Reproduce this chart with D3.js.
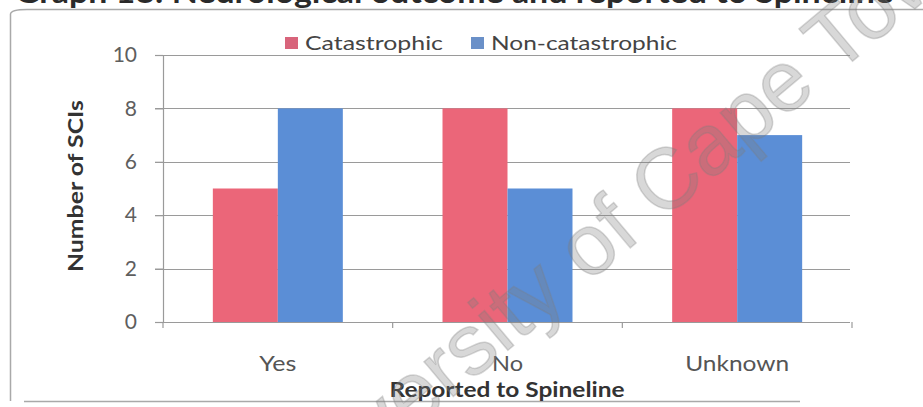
<!DOCTYPE html>
<html>
<head>
<meta charset="utf-8">
<script src="https://cdn.jsdelivr.net/npm/d3@7"></script>
<style>
  html, body { margin: 0; padding: 0; background: #fff; }
  svg { display: block; }
</style>
</head>
<body>
<svg id="chart" width="923" height="407"></svg>
<script>
// Spinal cord injuries by neurological outcome, split by whether they were reported to Spineline
const categories = ["Yes", "No", "Unknown"];
const seriesNames = ["Catastrophic", "Non-catastrophic"];
const catastrophic = [5, 8, 8];
const nonCatastrophic = [8, 5, 7];
const yTicks = [0, 2, 4, 6, 8, 10];
const titleText = "Graph 18: Neurological outcome and reported to Spineline";
const xTitle = "Reported to Spineline";
const yTitle = "Number of SCIs";
const watermarkHead = "University of ";
const watermarkTail = "Cape Town";

const colors = { "Catastrophic": "#eb6679", "Non-catastrophic": "#5b8ed6" };
const legendColors = { "Catastrophic": "#d8647b", "Non-catastrophic": "#6a90c8" };
const seriesValues = { "Catastrophic": catastrophic, "Non-catastrophic": nonCatastrophic };

const font = "Lato, 'Open Sans', sans-serif";
const svg = d3.select("#chart");

// plot box
const plot = { left: 163, right: 852, top: 55, bottom: 322 };

const x = d3.scaleBand().domain(categories)
  .range([plot.left, plot.right]).paddingInner(0.434).paddingOuter(0.217);
const xs = d3.scaleBand().domain(seriesNames).range([0, x.bandwidth()]);
const y = d3.scaleLinear().domain([0, 10]).range([plot.bottom, plot.top]);

// title (top of it runs off the page)
svg.append("text")
  .attr("x", 15).attr("y", 3)
  .attr("font-family", font).attr("font-weight", 700).attr("font-size", 30)
  .attr("fill", "#2a2a2a")
  .attr("textLength", 878).attr("lengthAdjust", "spacingAndGlyphs")
  .text(titleText);

// chart frame
svg.append("path")
  .attr("d", "M27,9.5 L923,9.5 M10.5,14 L10.5,401 M24,401.5 L800,401.5")
  .attr("fill", "none").attr("stroke", "#a9a9a9").attr("stroke-width", 1.5);
svg.append("path")
  .attr("d", "M10.5,14 Q11,9.5 27,9.5")
  .attr("fill", "none").attr("stroke", "#a9a9a9").attr("stroke-width", 1.5);

// horizontal gridlines with ticks
const grid = svg.append("g");
grid.selectAll("line").data(yTicks.filter(d => d > 0)).join("line")
  .attr("x1", 155).attr("x2", 850)
  .attr("y1", d => Math.round(y(d)) + 0.5).attr("y2", d => Math.round(y(d)) + 0.5)
  .attr("stroke", "#9a9a9a").attr("stroke-width", 1.2);

// y axis
const yAxis = svg.append("g").attr("transform", `translate(${plot.left},0)`)
  .call(d3.axisLeft(y).tickValues(yTicks).tickSize(8).tickPadding(18));
yAxis.select(".domain").attr("stroke", "#9a9a9a").attr("stroke-width", 1.2);
yAxis.selectAll(".tick line").attr("stroke", "#9a9a9a").attr("stroke-width", 1.2);
yAxis.selectAll(".tick text")
  .attr("font-family", font).attr("font-size", 21).attr("fill", "#5e5e5e");

// bars
const groups = svg.append("g").selectAll("g").data(categories).join("g")
  .attr("transform", d => `translate(${x(d)},0)`);
groups.selectAll("rect")
  .data((c, i) => seriesNames.map(s => ({ s, v: seriesValues[s][i] })))
  .join("rect")
  .attr("x", d => xs(d.s)).attr("width", xs.bandwidth())
  .attr("y", d => y(d.v)).attr("height", d => y(0) - y(d.v))
  .attr("fill", d => colors[d.s]);

// x axis with category-boundary ticks
const xAxisG = svg.append("g");
xAxisG.append("line")
  .attr("x1", plot.left).attr("x2", 850)
  .attr("y1", plot.bottom + 0.5).attr("y2", plot.bottom + 0.5)
  .attr("stroke", "#9a9a9a").attr("stroke-width", 1.2);
const step = x.step();
const boundaries = categories.map((c, i) => plot.left + i * step).concat([plot.left + categories.length * step]);
xAxisG.selectAll("line.bt").data(boundaries).join("line").attr("class", "bt")
  .attr("x1", d => d).attr("x2", d => d)
  .attr("y1", plot.bottom).attr("y2", plot.bottom + 6)
  .attr("stroke", "#9a9a9a").attr("stroke-width", 1.2);

const catWidths = { "Yes": 37, "No": 31, "Unknown": 104 };
svg.append("g").selectAll("text").data(categories).join("text")
  .attr("x", d => x(d) + x.bandwidth() / 2).attr("y", 371)
  .attr("text-anchor", "middle")
  .attr("font-family", font).attr("font-size", 22).attr("fill", "#555")
  .attr("textLength", d => catWidths[d]).attr("lengthAdjust", "spacingAndGlyphs")
  .text(d => d);

// axis titles
svg.append("text")
  .attr("x", 507).attr("y", 397).attr("text-anchor", "middle")
  .attr("font-family", font).attr("font-weight", 700).attr("font-size", 21)
  .attr("fill", "#333")
  .attr("textLength", 235).attr("lengthAdjust", "spacingAndGlyphs")
  .text(xTitle);
svg.append("text")
  .attr("transform", "translate(83,186) rotate(-90)")
  .attr("text-anchor", "middle")
  .attr("font-family", font).attr("font-weight", 700).attr("font-size", 21)
  .attr("fill", "#333")
  .attr("textLength", 172).attr("lengthAdjust", "spacingAndGlyphs")
  .text(yTitle);

// legend
const legendItems = [
  { s: "Catastrophic", sx: 285, tx: 305, w: 138 },
  { s: "Non-catastrophic", sx: 471, tx: 491, w: 186 }
];
const lg = svg.append("g").selectAll("g").data(legendItems).join("g");
lg.append("rect")
  .attr("x", d => d.sx).attr("y", 37).attr("width", 13).attr("height", 12)
  .attr("fill", d => legendColors[d.s]);
lg.append("text")
  .attr("x", d => d.tx).attr("y", 50)
  .attr("font-family", font).attr("font-size", 20).attr("fill", "#444")
  .attr("textLength", d => d.w).attr("lengthAdjust", "spacingAndGlyphs")
  .text(d => d.s);

// diagonal watermark
const wm = svg.append("g")
  .attr("transform", "translate(661,222) rotate(-40)")
  .attr("font-family", "'Liberation Sans', Arial, sans-serif")
  .attr("font-size", 86)
  .attr("fill", "#7d7d7d").attr("fill-opacity", 0.3)
  .attr("stroke", "#7d7d7d").attr("stroke-opacity", 0.3).attr("stroke-width", 1.5);
wm.append("text").attr("text-anchor", "end").text(watermarkHead.replace(/ $/, "\u00a0"));
wm.append("text").attr("text-anchor", "start").text(watermarkTail);
</script>
</body>
</html>
